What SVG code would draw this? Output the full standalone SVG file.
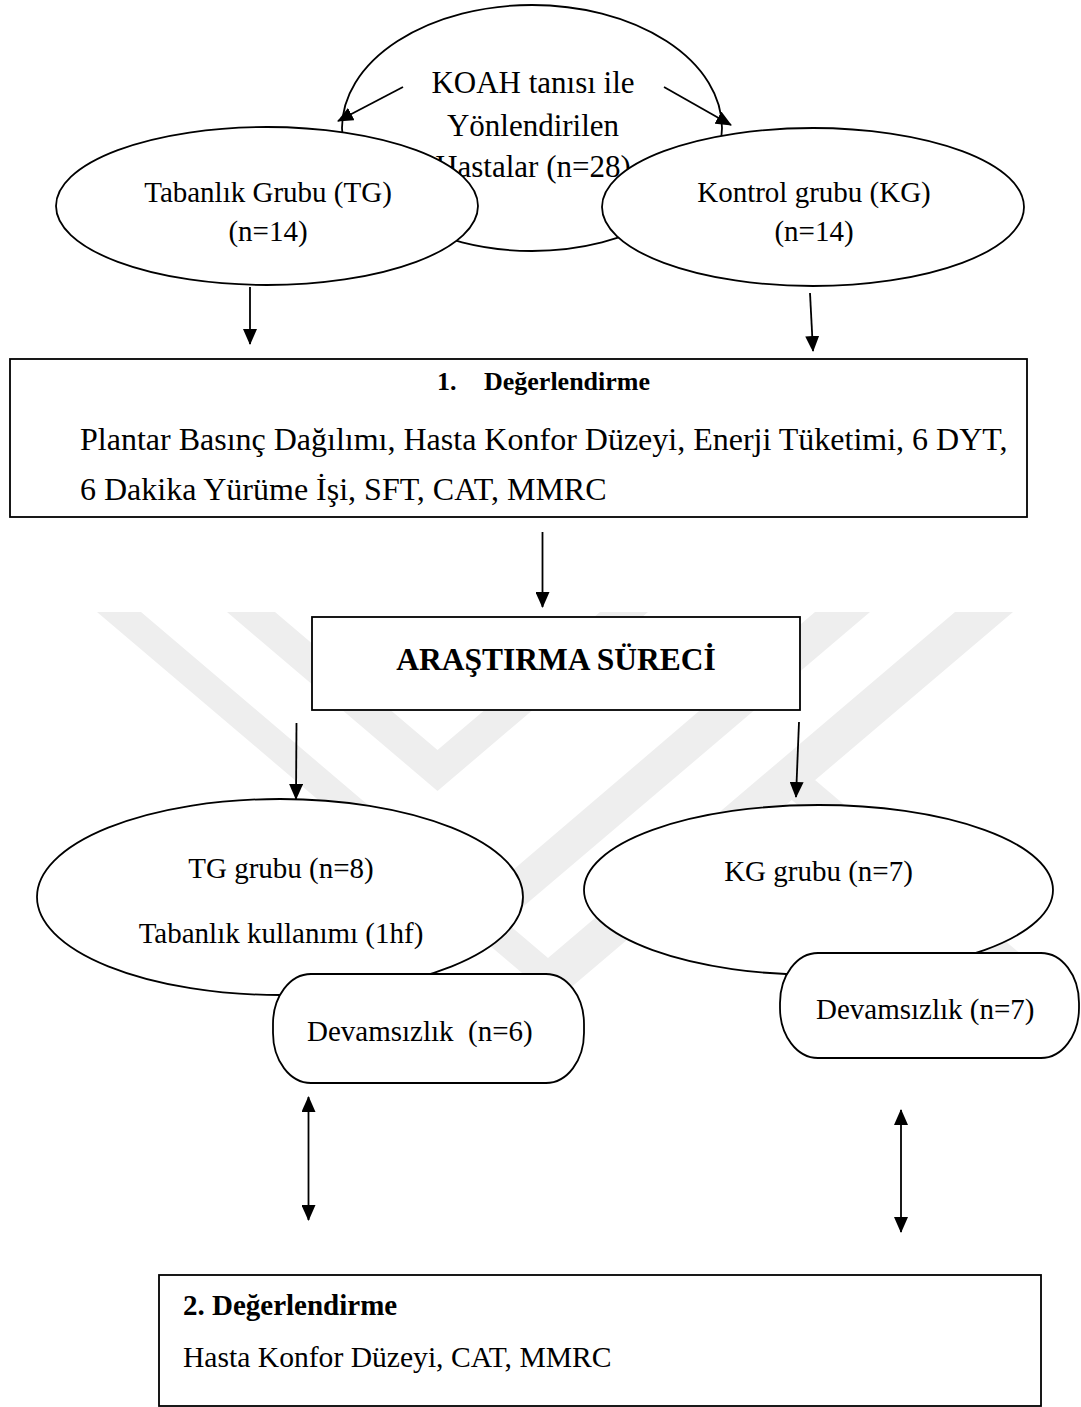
<svg xmlns="http://www.w3.org/2000/svg" width="1081" height="1407" viewBox="0 0 1081 1407">
<defs>
<marker id="ah" markerWidth="16" markerHeight="14" refX="15" refY="7" orient="auto-start-reverse" markerUnits="userSpaceOnUse"><path d="M0,0 L16,7 L0,14 z" fill="#000"/></marker>
</defs>
<style>
.t{font-family:"Liberation Serif","Times New Roman",serif;fill:#000;font-size:29px}
.b{font-weight:bold}
.m{text-anchor:middle}
.n{fill:#fff;stroke:#000;stroke-width:1.8}
.c{stroke:#000;stroke-width:1.8;fill:none;marker-end:url(#ah)}
.d{marker-start:url(#ah)}
.wm{fill:#eeeeee}
</style>
<rect width="1081" height="1407" fill="#fff"/>
<g id="watermark" class="wm">
<polygon points="97,612 141,612 548,958 955,612 1013,612 555,1001"/>
<polygon points="227,612 275,612 437.5,750 600,612 648,612 437.5,791"/>
<polygon points="815,612 870,612 484,940 478,900"/>
<polygon points="780,790 815,780 1075,1000 1027,1000"/>
</g>
<g id="n-koah">
<ellipse class="n" cx="532" cy="128" rx="190" ry="123"/>
<text class="t m" style="font-size:31px" x="533" y="93">KOAH tanısı ile</text>
<text class="t m" style="font-size:31px" x="533" y="136">Yönlendirilen</text>
<text class="t m" style="font-size:31px" x="533" y="177">Hastalar (n=28)</text>
</g>
<g id="n-tg0">
<ellipse class="n" cx="267" cy="206" rx="211" ry="79"/>
<text class="t m" x="268" y="202">Tabanlık Grubu (TG)</text>
<text class="t m" x="268" y="241">(n=14)</text>
</g>
<g id="n-kg0">
<ellipse class="n" cx="813" cy="207" rx="211" ry="79"/>
<text class="t m" x="814" y="202">Kontrol grubu (KG)</text>
<text class="t m" x="814" y="241">(n=14)</text>
</g>
<g id="n-eval1">
<rect class="n" x="10" y="359" width="1017" height="158"/>
<text class="t b" style="font-size:26px" x="437" y="390">1.</text>
<text class="t b" style="font-size:26px" x="484" y="390">Değerlendirme</text>
<text class="t" style="font-size:32px" x="80" y="450">Plantar Basınç Dağılımı, Hasta Konfor Düzeyi, Enerji Tüketimi, 6 DYT,</text>
<text class="t" style="font-size:32px" x="80" y="500">6 Dakika Yürüme İşi, SFT, CAT, MMRC</text>
</g>
<g id="n-process">
<rect class="n" x="312" y="617" width="488" height="93"/>
<text class="t b m" style="font-size:31.5px" x="556" y="670">ARAŞTIRMA SÜRECİ</text>
</g>
<g id="n-tg">
<ellipse class="n" cx="280" cy="897" rx="243" ry="98"/>
<text class="t m" x="281" y="878">TG grubu (n=8)</text>
<text class="t m" x="281" y="943">Tabanlık kullanımı (1hf)</text>
</g>
<g id="n-kg">
<ellipse class="n" cx="818.5" cy="890" rx="234.5" ry="85"/>
<text class="t m" x="818.5" y="881">KG grubu (n=7)</text>
</g>
<g id="n-drop-tg">
<rect class="n" x="273" y="974" width="311" height="109" rx="38" ry="50"/>
<text class="t" style="white-space:pre" x="307" y="1041">Devamsızlık  (n=6)</text>
</g>
<g id="n-drop-kg">
<rect class="n" x="780" y="953" width="299" height="105" rx="38" ry="50"/>
<text class="t" x="816" y="1019">Devamsızlık (n=7)</text>
</g>
<g id="n-eval2">
<rect class="n" x="159" y="1275" width="882" height="131"/>
<text class="t b" x="183" y="1315">2. Değerlendirme</text>
<text class="t" style="font-size:29.6px" x="183" y="1367">Hasta Konfor Düzeyi, CAT, MMRC</text>
</g>
<g id="connectors">
<line class="c" x1="403" y1="87" x2="338" y2="121"/>
<line class="c" x1="664" y1="87" x2="731" y2="125"/>
<line class="c" x1="250" y1="287" x2="250" y2="344"/>
<line class="c" x1="810" y1="293" x2="813" y2="351"/>
<line class="c" x1="542.5" y1="532" x2="542.5" y2="607"/>
<line class="c" x1="296.5" y1="723" x2="296" y2="799"/>
<line class="c" x1="799" y1="722" x2="796" y2="797"/>
<line class="c d" x1="308.5" y1="1097" x2="308.5" y2="1220"/>
<line class="c d" x1="901" y1="1110" x2="901" y2="1232"/>
</g>
</svg>
